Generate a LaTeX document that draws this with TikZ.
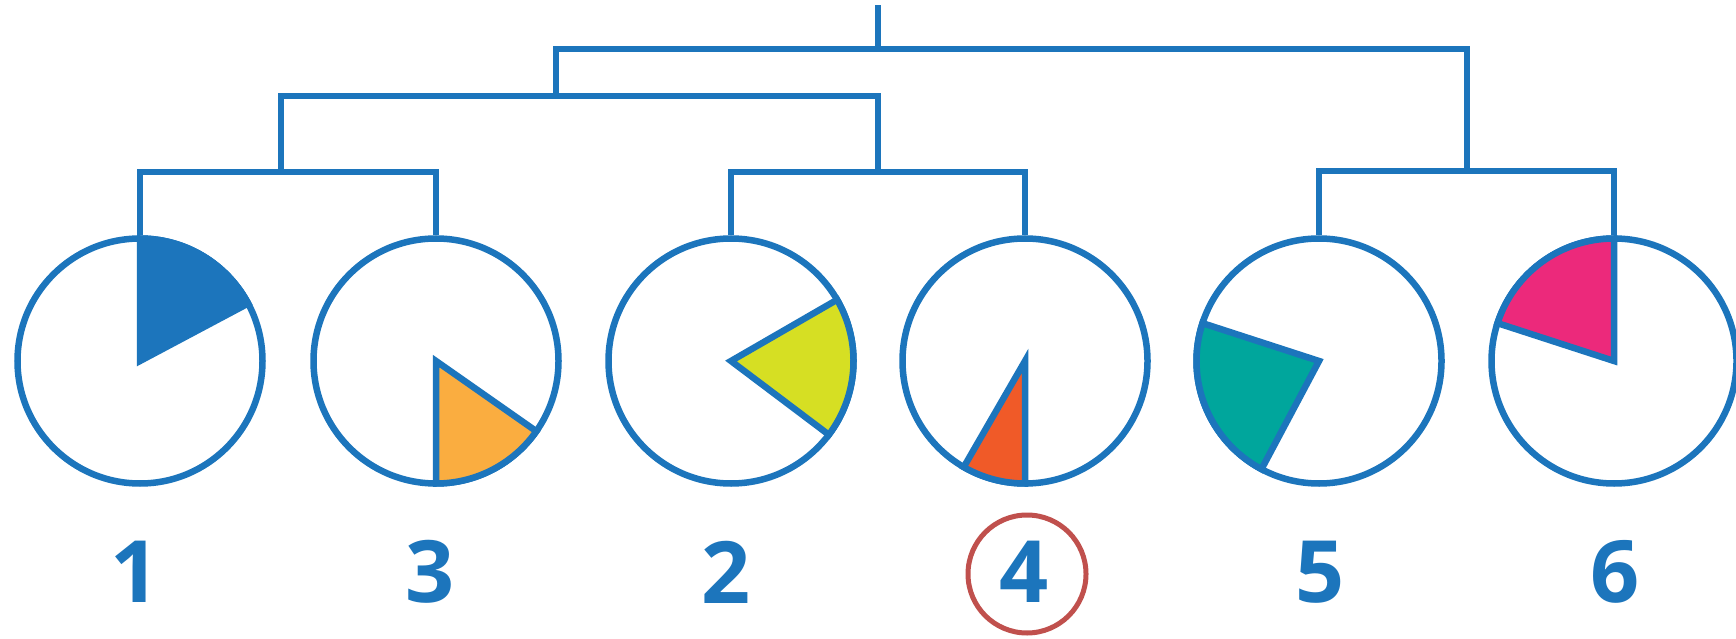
\documentclass[tikz,border=0pt]{standalone}
\usepackage{fontspec}
\setmainfont{Open Sans}
\definecolor{lineblue}{RGB}{28,117,188}
\definecolor{wedgeorange}{RGB}{250,173,64}
\definecolor{wedgeyellow}{RGB}{214,223,35}
\definecolor{wedgered}{RGB}{240,90,40}
\definecolor{wedgeteal}{RGB}{0,166,156}
\definecolor{wedgepink}{RGB}{236,41,123}
\definecolor{ringred}{RGB}{192,80,77}
\begin{document}
\begin{tikzpicture}[x=1pt,y=1pt,
  leaf/.style={circle,draw=lineblue,line width=6.5pt,minimum size=245pt,inner sep=0pt,fill=white},
  branch/.style={draw=lineblue,line width=6pt},
  wedgeline/.style={draw=lineblue,line width=6.5pt},
  digit/.style={text=lineblue,font=\fontsize{86}{86}\selectfont\bfseries,inner sep=0pt},
  ring/.style={circle,draw=ringred,line width=5pt,minimum size=118pt}]
\useasboundingbox (0,0) rectangle (1736,638);
% leaves
\node[leaf] (c1) at (140,277) {};
\node[leaf] (c3) at (436,277) {};
\node[leaf] (c2) at (731,277) {};
\node[leaf] (c4) at (1025,277) {};
\node[leaf] (c5) at (1319,277) {};
\node[leaf] (c6) at (1614,277) {};
% wedges
\filldraw[wedgeline,fill=lineblue] (c1.center) -- ++(28:122.5) arc[start angle=28,end angle=90,radius=122.5] -- cycle;
\filldraw[wedgeline,fill=wedgeorange] (c3.center) -- ++(-90:122.5) arc[start angle=-90,end angle=-35,radius=122.5] -- cycle;
\filldraw[wedgeline,fill=wedgeyellow] (c2.center) -- ++(-37:122.5) arc[start angle=-37,end angle=30,radius=122.5] -- cycle;
\filldraw[wedgeline,fill=wedgered] (c4.center) -- ++(-120:122.5) arc[start angle=-120,end angle=-90,radius=122.5] -- cycle;
\filldraw[wedgeline,fill=wedgeteal] (c5.center) -- ++(162:122.5) arc[start angle=162,end angle=242,radius=122.5] -- cycle;
\filldraw[wedgeline,fill=wedgepink] (c6.center) -- ++(90:122.5) arc[start angle=90,end angle=162,radius=122.5] -- cycle;
% internal tree points
\coordinate (p13) at (281,466);
\coordinate (p24) at (878,466);
\coordinate (p56) at (1467,467);
\coordinate (p1324) at (556,541.5);
\coordinate (proot) at (878,589);
\coordinate (ptop) at (878,633);
% connectors
\draw[branch] (c1.north) -- (c1.north |- p13) -- (c3.north |- p13) -- (c3.north);
\draw[branch] (c2.north) -- (c2.north |- p24) -- (c4.north |- p24) -- (c4.north);
\draw[branch] (c5.north) -- (c5.north |- p56) -- (c6.north |- p56) -- (c6.north);
\draw[branch] (p13) -- (p13 |- p1324) -- (p24 |- p1324) -- (p24);
\draw[branch] (p1324) -- (p1324 |- proot) -- (p56 |- proot) -- (p56);
\draw[branch] (proot) -- (ptop);
% labels
\node[digit] (l1) at (135,66) {1};
\node[digit] (l3) at (430,66) {3};
\node[digit] (l2) at (726,66) {2};
\node[digit] (l4) at (1024,66) {4};
\node[ring] (r4) at (1027,64) {};
\node[digit] (l5) at (1320,66) {5};
\node[digit] (l6) at (1615,66) {6};
\end{tikzpicture}
\end{document}
